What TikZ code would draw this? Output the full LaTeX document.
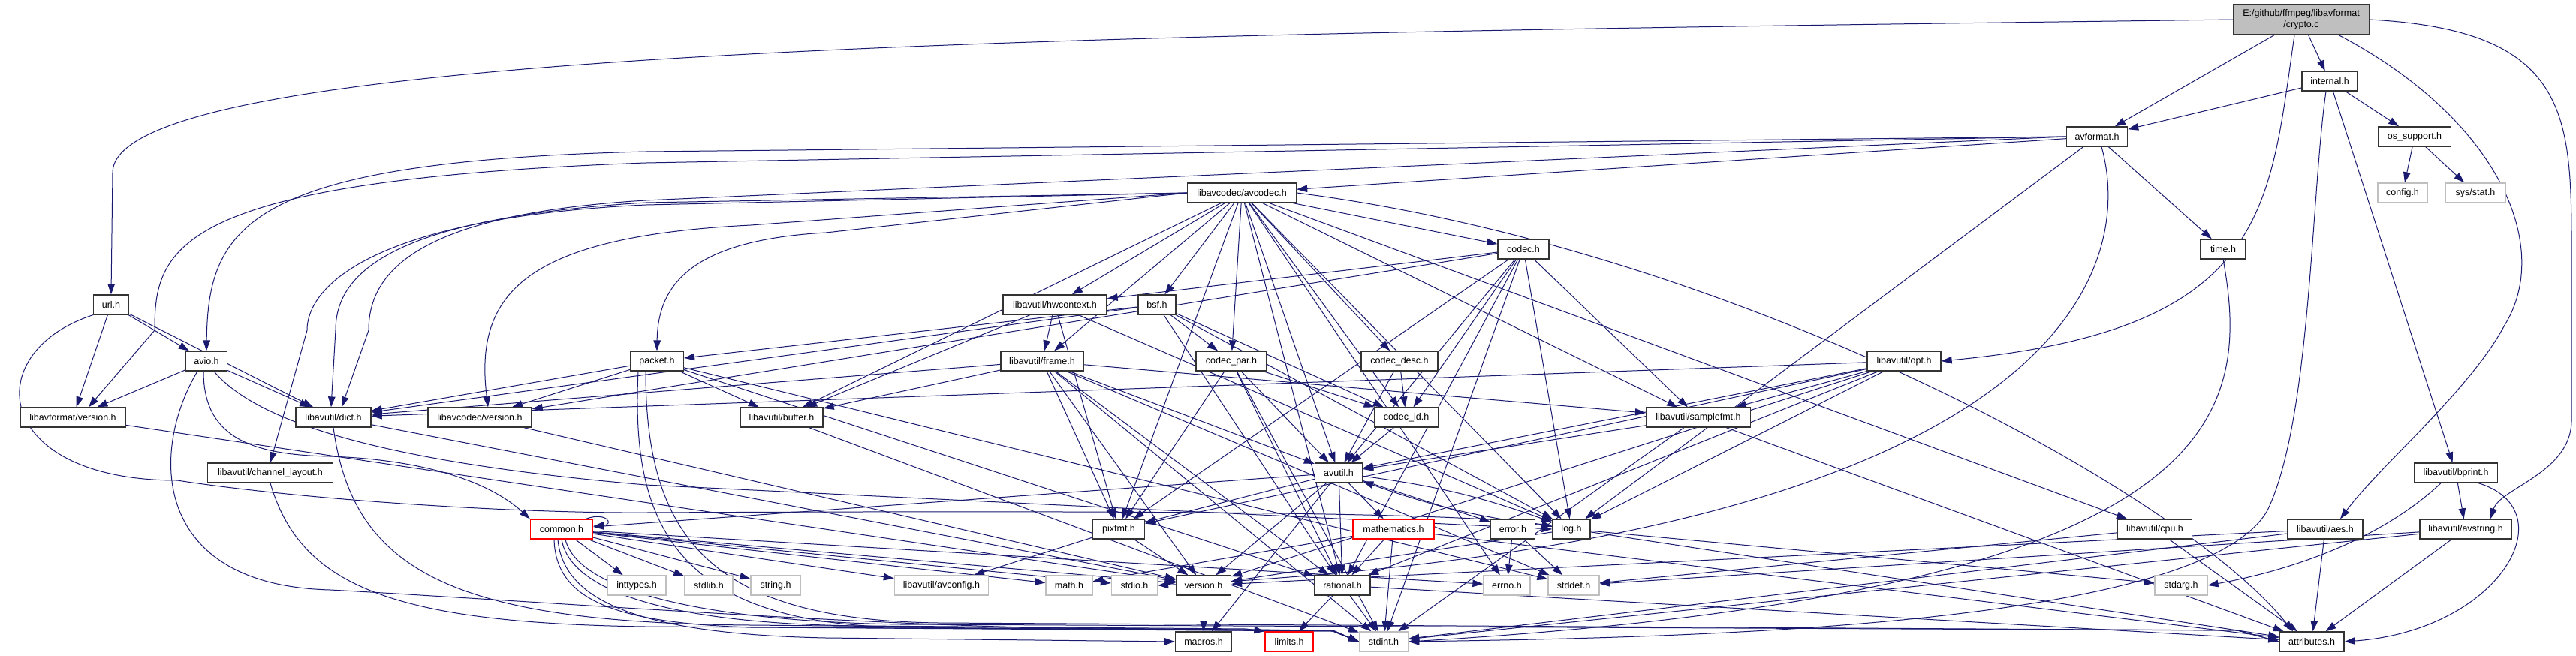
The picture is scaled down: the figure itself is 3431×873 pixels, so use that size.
\documentclass[tikz,border=0pt]{standalone}
\usepackage{fontspec}
\setmainfont{Liberation Sans}
\usetikzlibrary{arrows.meta}
\definecolor{edgec}{HTML}{191970}
\definecolor{grayb}{HTML}{BFBFBF}
\pgfdeclarelayer{bg}
\pgfsetlayers{bg,main}
\tikzset{
 fbox/.style={rectangle, draw=black!80, line width=1.3pt, fill=white, minimum height=26pt, inner sep=2pt, font=\fontsize{12.5}{15}\selectfont, text=black},
 nb/.style={fbox, minimum width=#1},
 ng/.style={fbox, draw=grayb, minimum width=#1},
 nr/.style={fbox, draw=red, minimum width=#1},
 e/.style={draw=edgec, line width=1pt, -{Triangle[length=14pt,width=9.5pt]}},
}
\newcommand\edg[2]{\draw[e] (#1) -- (#2);}
\begin{document}
\begin{tikzpicture}[x=1pt,y=1pt]
\useasboundingbox (0,0) rectangle (3431,-873);
% nodes
\node[nb=181, fill=grayb, minimum height=40pt, align=center] (crypto) at (3065,-26) {E:/github/ffmpeg/libavformat\\/crypto.c};
\node[nb=74] (internal) at (3103,-108) {internal.h};
\node[nb=81] (avformat) at (2793,-182) {avformat.h};
\node[nb=97] (ossupport) at (3216,-182) {os\_support.h};
\node[ng=66] (config) at (3200,-257) {config.h};
\node[ng=80] (sysstat) at (3297,-257) {sys/stat.h};
\node[nb=60] (timeh) at (2961,-332) {time.h};
\node[nb=145] (avcodec) at (1654,-257) {libavcodec/avcodec.h};
\node[nb=138] (hwcontext) at (1405,-406) {libavutil/hwcontext.h};
\node[nb=50] (bsf) at (1541,-406) {bsf.h};
\node[nb=68] (codech) at (2029,-332) {codec.h};
\node[nb=47] (url) at (148,-406) {url.h};
\node[nb=55] (avio) at (275,-481) {avio.h};
\node[nb=140] (lavfver) at (97,-556) {libavformat/version.h};
\node[nb=100] (dict) at (444,-556) {libavutil/dict.h};
\node[nb=138] (lavcver) at (639,-556) {libavcodec/version.h};
\node[nb=167] (chlayout) at (360,-630) {libavutil/channel\_layout.h};
\node[nr=83] (common) at (748,-705) {common.h};
\node[ng=78] (inttypes) at (848,-780) {inttypes.h};
\node[nb=71] (packet) at (875,-481) {packet.h};
\node[nb=110] (frame) at (1388,-481) {libavutil/frame.h};
\node[nb=94] (codecpar) at (1640,-481) {codec\_par.h};
\node[nb=110] (buffer) at (1041,-556) {libavutil/buffer.h};
\node[nb=69] (pixfmt) at (1490,-705) {pixfmt.h};
\node[ng=64] (stdlib) at (944,-780) {stdlib.h};
\node[ng=66] (string) at (1033,-780) {string.h};
\node[ng=125] (avconfig) at (1254,-780) {libavutil/avconfig.h};
\node[ng=62] (math) at (1424,-780) {math.h};
\node[ng=61] (stdio) at (1511,-780) {stdio.h};
\node[nb=73] (version) at (1603,-780) {version.h};
\node[nb=75] (macros) at (1603,-855) {macros.h};
\node[nr=64] (limits) at (1717,-855) {limits.h};
\node[nb=102] (codecdesc) at (1864,-481) {codec\_desc.h};
\node[nb=98] (opt) at (2536,-481) {libavutil/opt.h};
\node[nb=85] (codecid) at (1873,-556) {codec\_id.h};
\node[nb=139] (samplefmt) at (2262,-556) {libavutil/samplefmt.h};
\node[nb=63] (avutil) at (1783,-630) {avutil.h};
\node[nr=108] (mathematics) at (1856,-705) {mathematics.h};
\node[nb=59] (error) at (2015,-705) {error.h};
\node[nb=50] (log) at (2093,-705) {log.h};
\node[nb=74] (rational) at (1788,-780) {rational.h};
\node[ng=62] (errno) at (2007,-780) {errno.h};
\node[ng=68] (stddef) at (2096,-780) {stddef.h};
\node[ng=65] (stdint) at (1843,-855) {stdint.h};
\node[nb=111] (bprint) at (3271,-630) {libavutil/bprint.h};
\node[nb=99] (cpu) at (2870,-705) {libavutil/cpu.h};
\node[nb=100] (aes) at (3097,-705) {libavutil/aes.h};
\node[nb=122] (avstring) at (3284,-705) {libavutil/avstring.h};
\node[ng=70] (stdarg) at (2905,-780) {stdarg.h};
\node[nb=86] (attributes) at (3079,-855) {attributes.h};
\begin{pgfonlayer}{bg}
\fill[white] (0,0) rectangle (3431,-873);
% crypto.c
\draw[e] (crypto.west) .. controls (1500,-45) and (150,-60) .. (150,-230) -- (url.north);
\edg{crypto}{avformat}
\edg{crypto}{internal}
\draw[e] ([xshift=-9pt]crypto.south) .. controls (3022,-280) and (3022,-440) .. (opt.east);
\draw[e] ([xshift=50pt]crypto.south) .. controls (3330,-160) and (3400,-330) .. (3336,-433) .. controls (3290,-520) and (3170,-620) .. ([xshift=20pt]aes.north);
\draw[e] (crypto.east) .. controls (3420,-40) and (3425,-150) .. (3425,-330) -- (3425,-560) .. controls (3425,-630) and (3330,-650) .. ([xshift=33pt]avstring.north);
% internal.h
\edg{internal}{avformat}
\edg{internal}{ossupport}
\edg{internal}{bprint}
\draw[e] ([xshift=-5pt]internal.south) .. controls (3078,-260) and (3078,-560) .. (3020,-680) .. controls (2930,-840) and (2200,-850) .. (stdint.east);
\edg{ossupport}{config}
\edg{ossupport}{sysstat}
% avformat.h
\edg{avformat}{avcodec}
\edg{avformat}{timeh}
\edg{avformat}{log}
\draw[e] ([xshift=6pt]avformat.south) .. controls (2845,-360) and (2750,-720) .. (stdio.east);
\draw[e] (avformat.west) -- (860,-202) .. controls (330,-215) and (277,-300) .. (avio.north);
\draw[e] (avformat.west) -- (860,-217) .. controls (230,-240) and (206,-330) .. (206,-440) -- ([xshift=21pt]lavfver.north);
\draw[e] (avformat.west) -- (860,-267) .. controls (560,-285) and (491,-360) .. (491,-440) -- ([xshift=11pt]dict.north);
% avcodec.h
\draw[e] (avcodec.west) -- (860,-270) .. controls (530,-290) and (447,-360) .. (447,-440) -- ([xshift=-3pt]dict.north);
\draw[e] (avcodec.west) -- (860,-273) .. controls (500,-290) and (409,-380) .. (409,-440) -- (chlayout.north);
\draw[e] (avcodec.west) -- (1000,-300) .. controls (700,-315) and (631,-390) .. ([xshift=11pt]lavcver.north);
\draw[e] (avcodec.west) -- (1100,-310) .. controls (920,-320) and (876,-380) .. (packet.north);
\draw[e] (avcodec.east) .. controls (2300,-330) and (2900,-650) .. ([xshift=-25pt]attributes.north);
\edg{avcodec}{buffer}
\edg{avcodec}{hwcontext}
\edg{avcodec}{bsf}
\edg{avcodec}{frame}
\edg{avcodec}{codecpar}
\edg{avcodec}{codecdesc}
\edg{avcodec}{codecid}
\edg{avcodec}{codech}
\edg{avcodec}{avutil}
\edg{avcodec}{samplefmt}
\edg{avcodec}{log}
\edg{avcodec}{pixfmt}
\edg{avcodec}{rational}
\edg{avcodec}{errno}
\edg{avcodec}{cpu}
% codec.h
\edg{codech}{stdint}
\edg{codech}{avutil}
\edg{codech}{hwcontext}
\edg{codech}{log}
\edg{codech}{pixfmt}
\edg{codech}{rational}
\edg{codech}{samplefmt}
\edg{codech}{codecid}
\edg{codech}{lavcver}
% url.h
\edg{url}{avio}
\edg{url}{lavfver}
\edg{url}{dict}
\draw[e] (url.south west) .. controls (-30,-470) and (-10,-640) .. (236,-640) .. controls (420,-668) and (700,-684) .. (860,-683) .. controls (1500,-680) and (1950,-682) .. ([yshift=4pt]log.west);
% avio.h
\edg{avio}{dict}
\edg{avio}{lavfver}
\draw[e] ([xshift=-12pt]avio.south) .. controls (200,-600) and (200,-780) .. (440,-786) .. controls (700,-800) and (1200,-838) .. (1500,-838) -- (1775,-840) -- (stdint.west);
\draw[e] ([xshift=-4pt]avio.south) .. controls (271,-580) and (330,-606) .. (439,-608) .. controls (560,-612) and (650,-640) .. (common.north west);
\draw[e] ([xshift=10pt]avio.south) .. controls (340,-560) and (500,-615) .. (860,-646) -- (log.west);
% hwcontext.h
\edg{hwcontext}{buffer}
\edg{hwcontext}{frame}
\edg{hwcontext}{log}
\edg{hwcontext}{pixfmt}
% bsf.h
\edg{bsf}{dict}
\edg{bsf}{log}
\edg{bsf}{rational}
\edg{bsf}{codecid}
\edg{bsf}{codecpar}
\edg{bsf}{packet}
% packet.h
\edg{packet}{buffer}
\edg{packet}{dict}
\edg{packet}{lavcver}
\edg{packet}{rational}
\edg{packet}{stddef}
\draw[e] ([xshift=-25pt]packet.south) .. controls (840,-700) and (900,-830) .. (1200,-836) -- (1775,-841) -- (stdint.west);
\draw[e] ([xshift=-15pt]packet.south) .. controls (860,-720) and (950,-826) .. (1250,-830) -- (2980,-840) -- (attributes.west);
% frame.h
\edg{frame}{stddef}
\edg{frame}{stdint}
\edg{frame}{avutil}
\edg{frame}{buffer}
\edg{frame}{dict}
\edg{frame}{rational}
\edg{frame}{samplefmt}
\edg{frame}{pixfmt}
\edg{frame}{version}
% codec_par.h
\edg{codecpar}{stdint}
\edg{codecpar}{avutil}
\edg{codecpar}{rational}
\edg{codecpar}{pixfmt}
\edg{codecpar}{codecid}
% codec_desc.h
\edg{codecdesc}{avutil}
\edg{codecdesc}{codecid}
% opt.h
\edg{opt}{rational}
\edg{opt}{avutil}
\edg{opt}{dict}
\edg{opt}{log}
\edg{opt}{pixfmt}
\edg{opt}{samplefmt}
\edg{opt}{version}
% misc
\edg{lavfver}{version}
\edg{dict}{version}
\edg{lavcver}{version}
\draw[e] (dict.south) .. controls (470,-760) and (600,-830) .. (1000,-833) -- (1775,-840) -- (stdint.west);
\edg{buffer}{stdint}
\edg{codecid}{avutil}
\edg{samplefmt}{stdint}
\edg{samplefmt}{avutil}
\edg{samplefmt}{attributes}
\draw[e] (chlayout.south) .. controls (400,-780) and (520,-830) .. (860,-835) -- (1775,-840) -- (stdint.west);
% avutil.h
\edg{avutil}{common}
\edg{avutil}{error}
\edg{avutil}{rational}
\edg{avutil}{version}
\edg{avutil}{macros}
\edg{avutil}{mathematics}
\edg{avutil}{pixfmt}
\draw[e] (avutil) to[bend left=6] (log);
\draw[e] (log) to[bend left=6] (avutil);
% bprint.h
\edg{bprint}{avstring}
\draw[e] ([xshift=-20pt]bprint.south) .. controls (3170,-720) and (3050,-760) .. (stdarg.east);
\draw[e] ([xshift=30pt]bprint.south) .. controls (3420,-680) and (3330,-840) .. (attributes.east);
% common.h
\draw[e] ([xshift=-10pt]common.north east) .. controls +(28,10) and +(28,2) .. ([yshift=4pt]common.east);
\edg{common}{errno}
\edg{common}{inttypes}
\edg{common}{math}
\edg{common}{stdio}
\edg{common}{stdlib}
\edg{common}{string}
\edg{common}{version}
\edg{common}{avconfig}
\draw[e] ([xshift=-10pt]common.south) .. controls (740,-800) and (820,-830) .. (1000,-836) -- (1775,-841) -- (stdint.west);
\draw[e] ([xshift=-5pt]common.south) .. controls (750,-800) and (850,-845) .. (1100,-850) -- (macros.west);
\draw[e] (common.south) .. controls (760,-790) and (900,-832) .. (1150,-834) -- (1660,-838) -- (limits.north west);
\draw[e] ([xshift=5pt]common.south) .. controls (770,-790) and (950,-828) .. (1200,-832) -- (2980,-840) -- (attributes.west);
% leaves
\edg{pixfmt}{avconfig}
\edg{pixfmt}{version}
\edg{mathematics}{stdint}
\edg{mathematics}{math}
\edg{mathematics}{attributes}
\edg{mathematics}{rational}
\edg{error}{errno}
\edg{error}{stddef}
\edg{log}{stdarg}
\edg{log}{attributes}
\edg{log}{version}
\edg{cpu}{stddef}
\edg{cpu}{attributes}
\edg{aes}{stdint}
\edg{aes}{attributes}
\edg{aes}{version}
\edg{avstring}{stddef}
\edg{avstring}{stdint}
\edg{avstring}{attributes}
\edg{version}{macros}
\edg{rational}{stdint}
\edg{rational}{limits}
\edg{rational}{attributes}
\draw[e] (timeh.south) .. controls (3000,-560) and (2960,-790) .. (stdint.east);
\end{pgfonlayer}
\end{tikzpicture}
\end{document}
